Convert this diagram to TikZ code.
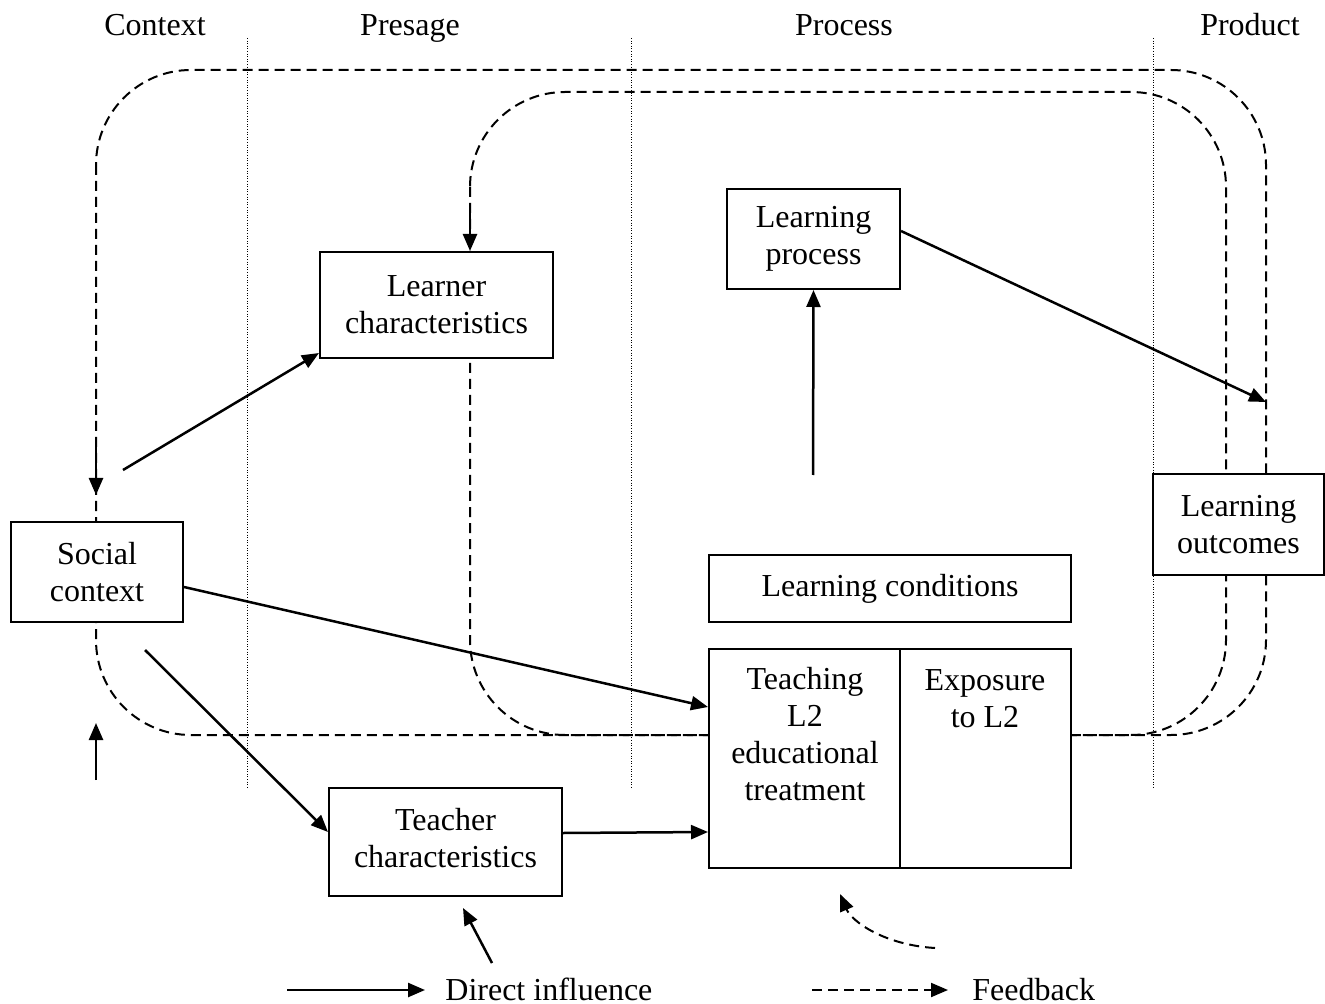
\documentclass[tikz,border=0pt]{standalone}
\usepackage{fontspec}
\setmainfont{Liberation Serif}
\usetikzlibrary{arrows.meta,calc}
\begin{document}
\begin{tikzpicture}[x=0.5pt,y=-0.5pt,
  every node/.style={font=\fontsize{16}{18.5}\selectfont},
  box/.style={draw, fill=white, line width=1pt, align=center, inner sep=0pt},
  lab/.style={inner sep=0pt, align=center},
  infl/.style={line width=1.25pt, -{Triangle[length=8.5pt,width=7pt]}},
  fb/.style={line width=1pt, dash pattern=on 5pt off 3pt},
  fbarrow/.style={fb, -{Triangle[length=8.5pt,width=7pt]}},
  divider/.style={line width=0.5pt, dash pattern=on 0.5pt off 0.8pt}]
\useasboundingbox (0,0) rectangle (1325,1004);

% column headers
\node[lab, anchor=base] (hctx) at (155,36) {Context};
\node[lab, anchor=base] (hpre) at (410,36) {Presage};
\node[lab, anchor=base] (hpro) at (844,36) {Process};
\node[lab, anchor=base] (hprd) at (1250,36) {Product};

% dotted dividers
\draw[divider] (247,38) -- (247,788);
\draw[divider] (631,38) -- (631,788);
\draw[divider] (1153,38) -- (1153,788);

% feedback loops
\draw[fb, rounded corners=47.5pt] (96,70) rectangle (1266,735);
\draw[fb, rounded corners=47.5pt] (470,92) rectangle (1226,735);

% boxes
\node[box, minimum width=86pt, minimum height=50pt] (soc) at (97,572) {Social\\context};
\node[box, minimum width=116.5pt, minimum height=53pt] (learner) at (436.5,305) {Learner\\characteristics};
\node[box, minimum width=116.5pt, minimum height=54pt] (teacher) at (445.5,842) {};
\node[lab] (tteacher) at (445.5,838) {Teacher\\characteristics};
\node[box, minimum width=86.5pt, minimum height=50pt] (lproc) at (813.5,239) {Learning\\process};
\node[box, minimum width=181pt, minimum height=33.5pt] (lcond) at (890,588.5) {Learning conditions};
\node[box, minimum width=95.5pt, minimum height=109.5pt] (teach) at (804.5,758.5) {};
\node[box, minimum width=85.5pt, minimum height=109.5pt] (expo) at (985.5,758.5) {};
\node[box, minimum width=85.5pt, minimum height=50.5pt] (lout) at (1238.5,524.5) {Learning\\outcomes};
\node[lab] (tteach) at (805,734.5) {Teaching\\L2\\educational\\treatment};
\node[lab] (texpo) at (985,698.5) {Exposure\\to L2};

% free ends
\coordinate (s1) at (123,470);
\coordinate (s2) at (145,650);
\coordinate (pup) at (813,475);
\coordinate (loopR) at (1266,402);
\coordinate (dnA) at (96,445);
\coordinate (dnAt) at (96,495);
\coordinate (dnB) at (470,213);
\coordinate (upA) at (96,780);
\coordinate (upAt) at (96,723);
\coordinate (tb) at (492,963);
\coordinate (tbt) at (463,908);
\coordinate (fbs) at (935,948);
\coordinate (fbt) at (840,894);

% direct influences
\draw[infl] (s1) -- ($(learner.south west)+(0,-6)$);
\draw[infl] ($(soc.east)+(0,15)$) -- ($(teach.north west)+(0,59)$);
\draw[infl] (s2) -- ($(teacher.west)+(0,-10)$);
\draw[infl] ($(teacher.east)+(0,-9)$) -- ($(teach.north west)+(0,184)$);
\draw[infl] (pup) -- (lproc.south);
\draw[infl] ($(lproc.east)+(0,-8)$) -- (loopR);
\draw[infl] (dnA) -- (dnAt);
\draw[infl] (dnB) -- (learner.north -| dnB);
\draw[infl] (upA) -- (upAt);
\draw[infl] (tb) -- (tbt);

% feedback
\draw[fbarrow] (fbs) .. controls (885,945) and (852,922) .. (fbt);

% legend
\coordinate (l1a) at (287,990);
\coordinate (l1b) at (425,990);
\coordinate (l2a) at (812,990);
\coordinate (l2b) at (948,990);
\draw[infl] (l1a) -- (l1b);
\node[lab, anchor=base west] (ldi) at (445,1000) {Direct influence};
\draw[fbarrow] (l2a) -- (l2b);
\node[lab, anchor=base west] (lfb) at (972,1000) {Feedback};
\end{tikzpicture}
\end{document}
